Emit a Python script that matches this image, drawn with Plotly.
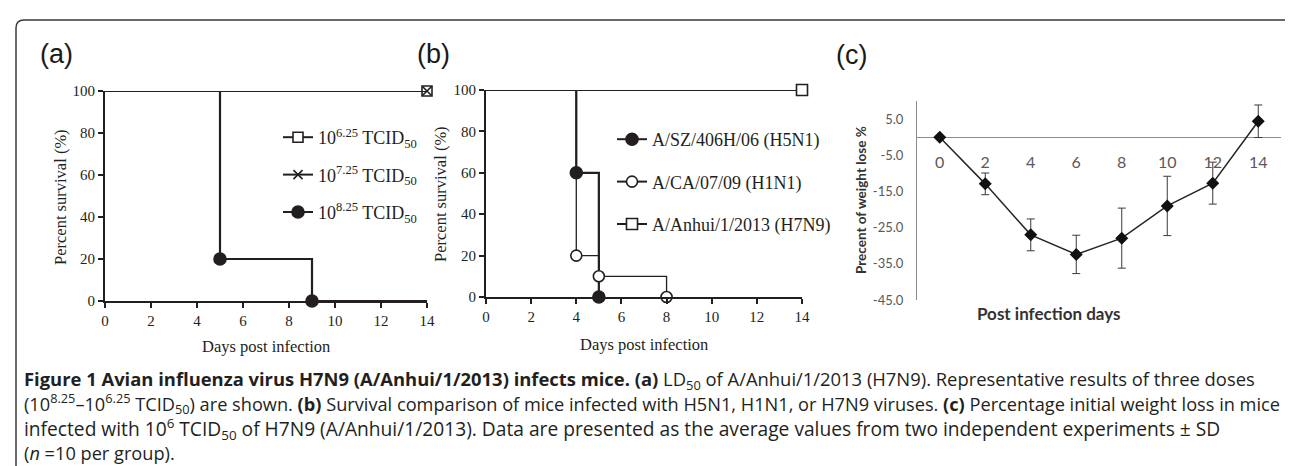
import plotly.graph_objects as go

# ---------------- data ----------------
# Panel (a): survival by dose
A_LABELS = ["10<sup>6.25</sup> TCID<sub>50</sub>",
            "10<sup>7.25</sup> TCID<sub>50</sub>",
            "10<sup>8.25</sup> TCID<sub>50</sub>"]
A_DAYS_625 = [0, 14]
A_SURV_625 = [100, 100]
A_MARK_625 = [14]
A_DAYS_725 = [0, 14]
A_SURV_725 = [100, 100]
A_MARK_725 = [14]
A_DAYS_825 = [0, 5, 9, 14]
A_SURV_825 = [100, 20, 0, 0]
A_MARK_825 = [5, 9]

# Panel (b): survival by strain
B_LABELS = ["A/SZ/406H/06 (H5N1)", "A/CA/07/09 (H1N1)", "A/Anhui/1/2013 (H7N9)"]
B_DAYS_H5N1 = [0, 4, 5]
B_SURV_H5N1 = [100, 60, 0]
B_MARK_H5N1 = [4, 5]
B_DAYS_H1N1 = [0, 4, 5, 8]
B_SURV_H1N1 = [100, 20, 10, 0]
B_MARK_H1N1 = [4, 5, 8]
B_DAYS_H7N9 = [0, 14]
B_SURV_H7N9 = [100, 100]
B_MARK_H7N9 = [14]

SURV_XTICKS = [0, 2, 4, 6, 8, 10, 12, 14]
SURV_YTICKS = [0, 20, 40, 60, 80, 100]

# Panel (c): weight change
C_DAYS = [0, 2, 4, 6, 8, 10, 12, 14]
C_MEAN = [0, -12.9, -27.0, -32.4, -27.9, -19.0, -12.7, 4.4]
C_SD = [0, 3.0, 4.4, 5.3, 8.3, 8.2, 5.8, 4.5]
C_YTICKS = [5, -5, -15, -25, -35, -45]

CAPTION = [
    "<b>Figure 1 Avian influenza virus H7N9 (A/Anhui/1/2013) infects mice.</b> <b>(a)</b> LD<sub>50</sub> of A/Anhui/1/2013 (H7N9). Representative results of three doses",
    "(10<sup>8.25</sup>–10<sup>6.25</sup> TCID<sub>50</sub>) are shown. <b>(b)</b> Survival comparison of mice infected with H5N1, H1N1, or H7N9 viruses. <b>(c)</b> Percentage initial weight loss in mice",
    "infected with 10<sup>6</sup> TCID<sub>50</sub> of H7N9 (A/Anhui/1/2013). Data are presented as the average values from two independent experiments ± SD",
    "(<i>n</i> =10 per group).",
]

# ---------------- layout helpers ----------------
W, H = 1293, 466
def px(x):
    return x / W
def py(y):
    return 1 - y / H

INK = "#231f20"
SERIF = "Liberation Serif, Times New Roman, serif"
SANS = "Liberation Sans, Arial, sans-serif"
CAL = "Lato, sans-serif"
CAP = "Open Sans, sans-serif"

fig = go.Figure()

def marks(days, surv, mdays):
    lut = dict(zip(days, surv))
    return mdays, [lut[d] for d in mdays]

def add_surv(days, surv, mdays, xa, ya, symbol, fill, lw, msize):
    fig.add_trace(go.Scatter(x=days, y=surv, mode="lines", line=dict(color=INK, width=lw, shape="hv"),
                             xaxis=xa, yaxis=ya, showlegend=False, cliponaxis=False, hoverinfo="skip"))
    mx, my = marks(days, surv, mdays)
    fig.add_trace(go.Scatter(x=mx, y=my, mode="markers", xaxis=xa, yaxis=ya, showlegend=False,
                             cliponaxis=False,
                             marker=dict(symbol=symbol, size=msize, color=fill,
                                         line=dict(color=INK, width=1.6))))

def add_legend_entry(name, legend, xa, ya, symbol, fill, msize, group):
    fig.add_trace(go.Scatter(x=[None], y=[None], mode="lines+markers", name=name, legend=legend,
                             legendgroup=group, xaxis=xa, yaxis=ya,
                             line=dict(color=INK, width=2),
                             marker=dict(symbol=symbol, size=msize, color=fill,
                                         line=dict(color=INK, width=1.6))))

# panel a
add_surv(A_DAYS_625, A_SURV_625, A_MARK_625, "x", "y", "square", "white", 2.2, 10)
add_surv(A_DAYS_725, A_SURV_725, A_MARK_725, "x", "y", "x-thin", INK, 2.2, 9)
add_surv(A_DAYS_825, A_SURV_825, A_MARK_825, "x", "y", "circle", INK, 2.2, 12)
add_legend_entry(A_LABELS[0], "legend", "x", "y", "square", "white", 10, "a1")
add_legend_entry(A_LABELS[1], "legend", "x", "y", "x-thin", INK, 9, "a2")
add_legend_entry(A_LABELS[2], "legend", "x", "y", "circle", INK, 12, "a3")

# panel b
add_surv(B_DAYS_H5N1, B_SURV_H5N1, B_MARK_H5N1, "x2", "y2", "circle", INK, 2.2, 12)
add_surv(B_DAYS_H1N1, B_SURV_H1N1, B_MARK_H1N1, "x2", "y2", "circle", "white", 1.3, 11)
add_surv(B_DAYS_H7N9, B_SURV_H7N9, B_MARK_H7N9, "x2", "y2", "square", "white", 2.2, 11)
add_legend_entry(B_LABELS[0], "legend2", "x2", "y2", "circle", INK, 12, "b1")
add_legend_entry(B_LABELS[1], "legend2", "x2", "y2", "circle", "white", 11, "b2")
add_legend_entry(B_LABELS[2], "legend2", "x2", "y2", "square", "white", 11, "b3")

# panel c
fig.add_trace(go.Scatter(x=C_DAYS, y=C_MEAN, mode="lines+markers", xaxis="x3", yaxis="y3",
                         showlegend=False, cliponaxis=False,
                         line=dict(color="#262626", width=1.5),
                         marker=dict(symbol="diamond", size=10, color="#111111"),
                         error_y=dict(type="data", array=C_SD, color="#3a3a3a", thickness=1, width=4)))

surv_axis_common = dict(showline=True, linewidth=2, linecolor=INK, ticks="outside", ticklen=5,
                        tickwidth=2, tickcolor=INK, showgrid=False, zeroline=False, automargin=False,
                        tickfont=dict(family=SERIF, size=15, color=INK))

fig.update_layout(
    width=W, height=H, autosize=False,
    margin=dict(l=0, r=0, t=0, b=0, pad=0, autoexpand=False),
    paper_bgcolor="white", plot_bgcolor="white",
    xaxis=dict(domain=[px(97), px(419)], range=[0, 14], tickvals=SURV_XTICKS, anchor="y",
               **surv_axis_common),
    yaxis=dict(domain=[py(293), py(83)], range=[0, 100], tickvals=SURV_YTICKS, anchor="x",
               **surv_axis_common),
    xaxis2=dict(domain=[px(478), px(794)], range=[0, 14], tickvals=SURV_XTICKS, anchor="y2",
                **surv_axis_common),
    yaxis2=dict(domain=[py(289), py(82)], range=[0, 100], tickvals=SURV_YTICKS, anchor="x2",
                **surv_axis_common),
    xaxis3=dict(domain=[px(909), px(1273)], range=[-1, 15], tickvals=C_DAYS, anchor="free",
                position=py(128.3), showline=False, showgrid=False, zeroline=False, automargin=False,
                ticks="", ticklabelstandoff=15,
                tickfont=dict(family=CAL, size=16, color="#595959")),
    yaxis3=dict(domain=[py(292), py(93)], range=[-45, 10], tickvals=C_YTICKS,
                ticktext=[f"{v:.1f}" for v in C_YTICKS],
                anchor="x3", showline=True, linewidth=1, linecolor="#8c8c8c", showgrid=False,
                zeroline=True, zerolinecolor="#8c8c8c", zerolinewidth=1, ticks="", automargin=False,
                ticklabelstandoff=10,
                tickfont=dict(family=CAL, size=13, color="#595959")),
    legend=dict(x=px(270), y=py(111), xanchor="left", yanchor="top", bgcolor="rgba(0,0,0,0)",
                font=dict(family=SERIF, size=18, color=INK), tracegroupgap=11, itemwidth=30,
                traceorder="grouped"),
    legend2=dict(x=px(604), y=py(113), xanchor="left", yanchor="top", bgcolor="rgba(0,0,0,0)",
                 font=dict(family=SERIF, size=18, color=INK), tracegroupgap=16, itemwidth=30,
                 traceorder="grouped"),
    shapes=[dict(type="path", xref="paper", yref="paper",
                 path=f"M {px(8)} {py(466)} L {px(8)} {py(20)} Q {px(8)} {py(12)} {px(16)} {py(12)} "
                      f"L {px(1284)} {py(12)} Q {px(1292)} {py(12)} {px(1292)} {py(20)} L {px(1292)} {py(466)}",
                 line=dict(color="#3a3a3a", width=1.5))],
)

ann = []
def text(x, y, s, size, family, color=INK, angle=0, xanchor="center"):
    ann.append(dict(x=px(x), y=py(y), xref="paper", yref="paper", text=s, showarrow=False,
                    font=dict(size=size, family=family, color=color), textangle=angle,
                    xanchor=xanchor, yanchor="middle"))

text(48, 46, "(a)", 27, SANS, "#1a1a1a")
text(425, 46, "(b)", 27, SANS, "#1a1a1a")
text(843, 47, "(c)", 27, SANS, "#1a1a1a")

text(52, 189, "Percent survival (%)", 16.5, SERIF, angle=-90)
text(258, 338, "Days post infection", 16.5, SERIF)
text(432, 186, "Percent survival (%)", 16.5, SERIF, angle=-90)
text(636, 336, "Days post infection", 16.5, SERIF)
text(853, 192, "<b>Precent of weight lose %</b>", 13.5, CAL, "#333333", angle=-90)
text(1040, 305, "<b>Post infection days</b>", 17, CAL, "#333333")

CAPTION_SIZES = [18.4, 18.2, 19.2, 18.2]
CAPTION_ROWS = [372, 395, 421, 445]
for i, line in enumerate(CAPTION):
    text(14, CAPTION_ROWS[i], line, CAPTION_SIZES[i], CAP, "#231f20", xanchor="left")

fig.update_layout(annotations=ann)
fig.write_html("out.html")
